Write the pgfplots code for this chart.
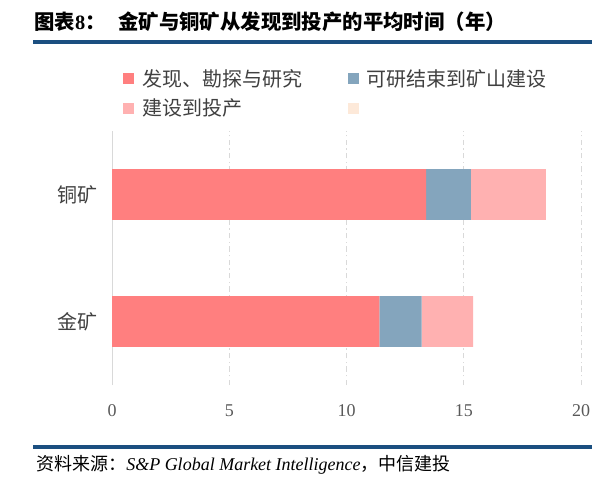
\documentclass[border=0pt]{standalone}
\usepackage{pgfplots}
\pgfplotsset{compat=1.18}
\usepackage{fontspec}
\setmainfont{Liberation Serif}
\newfontfamily\cjk{Noto Sans CJK SC}

\definecolor{cRed}{HTML}{FF7F7F}
\definecolor{cBlue}{HTML}{84A5BD}
\definecolor{cPink}{HTML}{FFB1B1}
\definecolor{cPeach}{HTML}{FDE9D9}
\definecolor{rule}{HTML}{1B4F80}
\definecolor{labgray}{HTML}{404040}
\definecolor{tickgray}{HTML}{595959}
\definecolor{gridgray}{HTML}{D9D9D9}

\pgfplotsset{
  sq/.style={legend image code/.code={\fill[##1] (0pt,-4.1pt) rectangle (8.25pt,4.1pt);}},
}

\begin{document}
\begin{tikzpicture}
\useasboundingbox (0,0) rectangle (444pt,364.5pt);
\clip (0,0) rectangle (444pt,364.5pt);

% title and rules
\node[anchor=west, inner sep=0pt] at (25.5pt,348pt)
  {\cjk\bfseries\fontsize{15.3pt}{18pt}\selectfont 图表{\rmfamily\bfseries 8}：};
\node[anchor=west, inner sep=0pt] at (88.5pt,348pt)
  {\cjk\bfseries\fontsize{15.3pt}{18pt}\selectfont 金矿与铜矿从发现到投产的平均时间（年）};
\fill[rule] (24.75pt,331.5pt) rectangle (444pt,334.5pt);
\fill[rule] (24.75pt,28.1pt) rectangle (444pt,30.4pt);
\node[anchor=west, inner sep=0pt] at (27pt,15.75pt)
  {\fontsize{13.5pt}{16pt}\selectfont{\cjk 资料来源：}\textit{S\&P Global Market Intelligence}{\cjk ，中信建投}};

\begin{axis}[
  at={(84pt,75.75pt)}, anchor=south west,
  scale only axis, width=351.75pt, height=190.5pt,
  xbar stacked, bar width=38pt,
  xmin=0, xmax=20, ymin=-0.5, ymax=1.5,
  xtick={0,5,10,15,20},
  ytick={0,1}, yticklabels={金矿,铜矿},
  axis line style={draw=none},
  major tick length=0pt,
  xmajorgrids,
  major grid style={draw=gridgray, line width=0.75pt, dash pattern=on 4pt off 2.5pt on 1pt off 2.5pt},
  /pgf/number format/assume math mode=true,
  xticklabel style={font=\fontsize{13.5pt}{16pt}\selectfont, text=tickgray, yshift=-11pt},
  yticklabel style={font=\cjk\fontsize{15pt}{18pt}\selectfont, text=labgray, xshift=-7pt},
  legend columns=2,
  legend cell align=left,
  legend style={draw=none, fill=none, at={(0.0235,1.255)}, anchor=north west,
    font=\cjk\fontsize{15pt}{18pt}\selectfont, text=labgray, inner sep=0pt,
    row sep=4pt,
    /tikz/every odd column/.append style={column sep=4pt},
    /tikz/every even column/.append style={column sep=32pt}},
]
\addplot[fill=cRed, draw=none, sq] coordinates {(11.4,0) (13.4,1)};
\addlegendentry{发现、勘探与研究}
\addplot[fill=cBlue, draw=none, sq] coordinates {(1.8,0) (1.9,1)};
\addlegendentry{可研结束到矿山建设}
\addplot[fill=cPink, draw=none, sq] coordinates {(2.2,0) (3.2,1)};
\addlegendentry{建设到投产}
\addlegendimage{fill=cPeach, draw=none, sq}
\addlegendentry{}
\draw[gridgray, line width=1.1pt] (axis cs:0,-0.5) -- (axis cs:0,1.5);
\end{axis}
\end{tikzpicture}
\end{document}
